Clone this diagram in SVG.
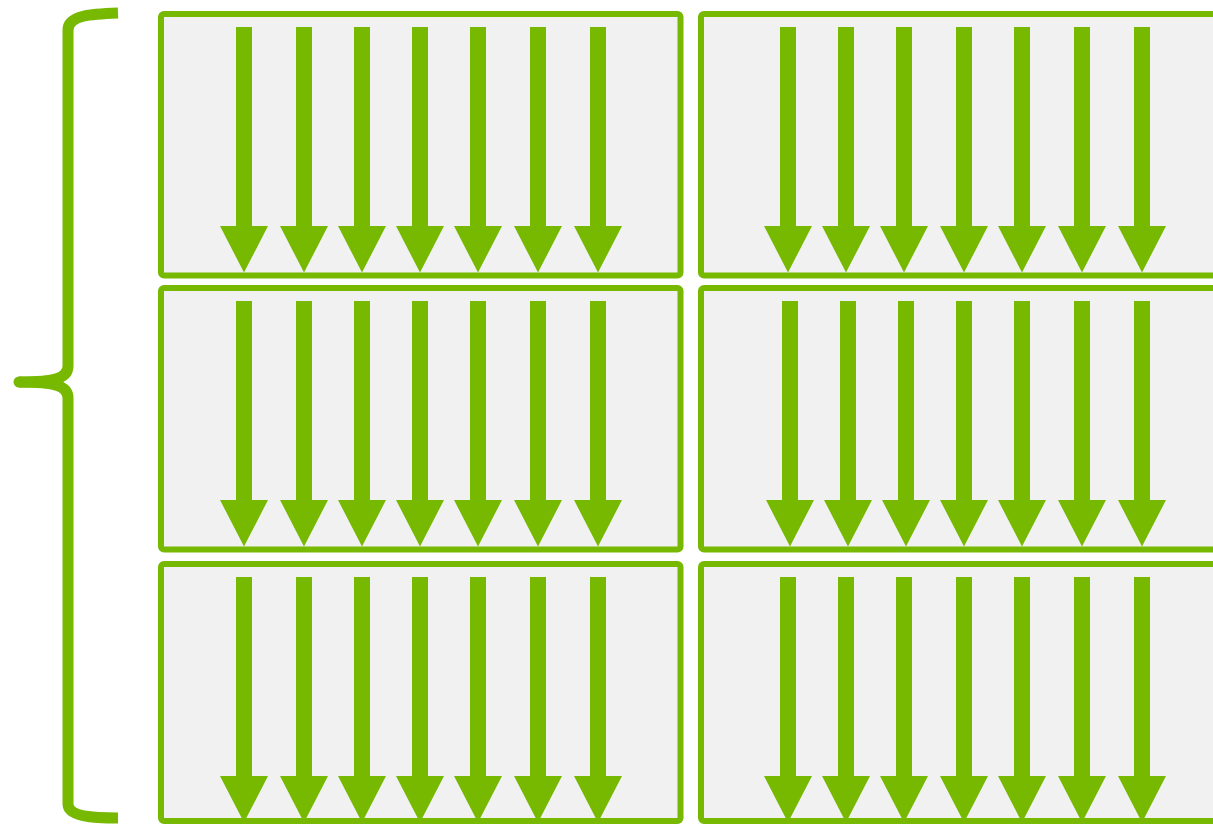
<svg xmlns="http://www.w3.org/2000/svg" xmlns:xlink="http://www.w3.org/1999/xlink" width="1213" height="824" viewBox="0 0 1213 824">
<style>
.box{fill:#f1f1f1;stroke:#76b900;stroke-width:6}
.arr{fill:#76b900}
.brace{fill:none;stroke:#76b900;stroke-width:11;stroke-linecap:butt;stroke-linejoin:round}
</style>
<defs>
<path id="a" d="M-8,0 H8 V199 H24 L0,245.5 L-24,199 H-8 Z"/>
</defs>
<rect width="1213" height="824" fill="#fff"/>
<g id="brace">
<path class="brace" d="M118,13 C92,14 68,15 68,30 L68,366 C68,378 56,382 19,382"/>
<path class="brace" d="M19,382 C56,382 68,386 68,398 L68,804 C68,816 92,818 118,818"/>
<circle cx="19" cy="382" r="5.5" fill="#76b900"/>
</g>
<g id="box-r1c1">
<rect class="box" x="161" y="14" width="519.5" height="261.5" rx="3"/>
<g class="arr" transform="translate(0,27)">
<use xlink:href="#a" x="244"/><use xlink:href="#a" x="304"/><use xlink:href="#a" x="362"/><use xlink:href="#a" x="420"/><use xlink:href="#a" x="478"/><use xlink:href="#a" x="538"/><use xlink:href="#a" x="598"/>
</g>
</g>
<g id="box-r1c2">
<rect class="box" x="701" y="14" width="530" height="261.5" rx="3"/>
<g class="arr" transform="translate(0,27)">
<use xlink:href="#a" x="788"/><use xlink:href="#a" x="846"/><use xlink:href="#a" x="904"/><use xlink:href="#a" x="964"/><use xlink:href="#a" x="1022"/><use xlink:href="#a" x="1082"/><use xlink:href="#a" x="1142"/>
</g>
</g>
<g id="box-r2c1">
<rect class="box" x="161" y="288" width="519.5" height="261.5" rx="3"/>
<g class="arr" transform="translate(0,301)">
<use xlink:href="#a" x="244"/><use xlink:href="#a" x="304"/><use xlink:href="#a" x="362"/><use xlink:href="#a" x="420"/><use xlink:href="#a" x="478"/><use xlink:href="#a" x="538"/><use xlink:href="#a" x="598"/>
</g>
</g>
<g id="box-r2c2">
<rect class="box" x="701" y="288" width="530" height="261.5" rx="3"/>
<g class="arr" transform="translate(0,301)">
<use xlink:href="#a" x="790"/><use xlink:href="#a" x="848"/><use xlink:href="#a" x="906"/><use xlink:href="#a" x="964"/><use xlink:href="#a" x="1022"/><use xlink:href="#a" x="1082"/><use xlink:href="#a" x="1142"/>
</g>
</g>
<g id="box-r3c1">
<rect class="box" x="161" y="564" width="519.5" height="257" rx="3"/>
<g class="arr" transform="translate(0,577)">
<use xlink:href="#a" x="244"/><use xlink:href="#a" x="304"/><use xlink:href="#a" x="362"/><use xlink:href="#a" x="420"/><use xlink:href="#a" x="478"/><use xlink:href="#a" x="538"/><use xlink:href="#a" x="598"/>
</g>
</g>
<g id="box-r3c2">
<rect class="box" x="701" y="564" width="530" height="257" rx="3"/>
<g class="arr" transform="translate(0,577)">
<use xlink:href="#a" x="788"/><use xlink:href="#a" x="846"/><use xlink:href="#a" x="904"/><use xlink:href="#a" x="964"/><use xlink:href="#a" x="1022"/><use xlink:href="#a" x="1082"/><use xlink:href="#a" x="1142"/>
</g>
</g>
<g id="connectors"></g>
</svg>
